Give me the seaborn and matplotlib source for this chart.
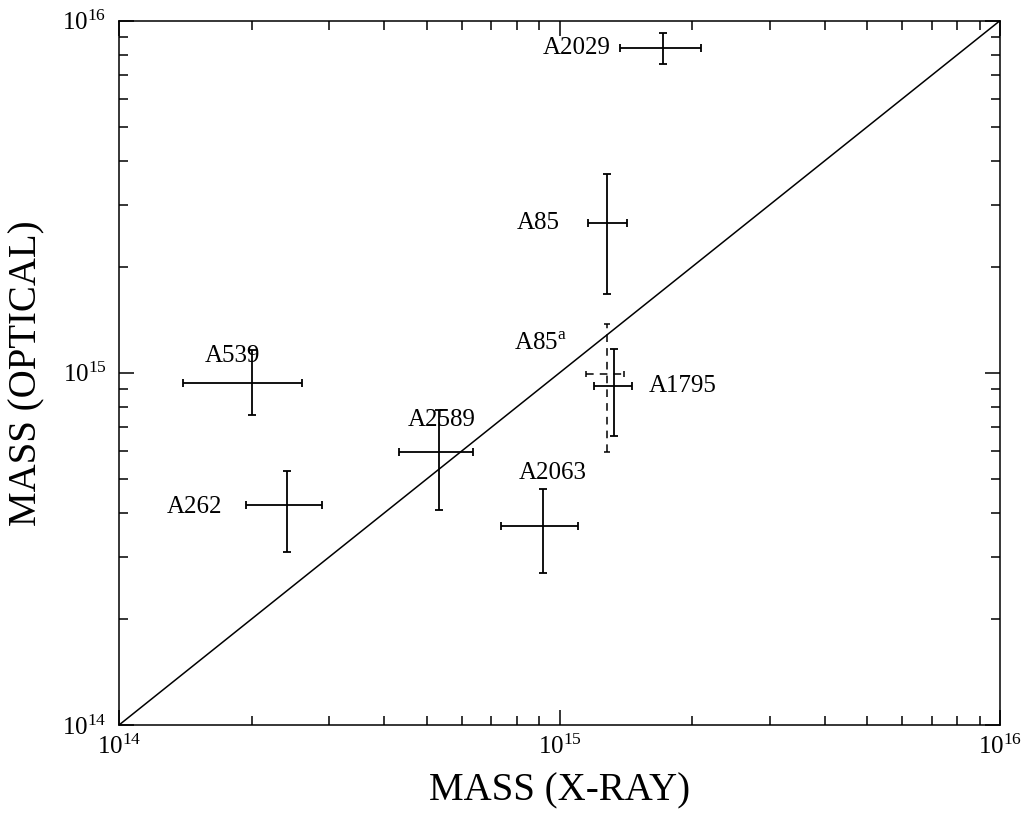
import numpy as np
import pandas as pd
import seaborn as sns
import matplotlib.pyplot as plt
from matplotlib.ticker import LogLocator, LogFormatterMathtext, NullFormatter

# cluster masses (solar masses)
clusters = ['A2029', 'A85', 'A1795', 'A539', 'A2589', 'A262', 'A2063']
m_xray = [1.72e15, 1.28e15, 1.33e15, 2.00e14, 5.33e14, 2.41e14, 9.19e14]
m_xray_lo = [1.37e15, 1.16e15, 1.20e15, 1.40e14, 4.33e14, 1.94e14, 7.37e14]
m_xray_hi = [2.09e15, 1.42e15, 1.46e15, 2.60e14, 6.35e14, 2.89e14, 1.10e15]
m_opt = [8.34e15, 2.67e15, 9.17e14, 9.37e14, 5.97e14, 4.21e14, 3.67e14]
m_opt_lo = [7.53e15, 1.67e15, 6.63e14, 7.59e14, 4.08e14, 3.10e14, 2.70e14]
m_opt_hi = [9.20e15, 3.67e15, 1.17e15, 1.16e15, 7.84e14, 5.27e14, 4.67e14]

# A85 alternative estimate (dashed)
alt_name = 'A85$^{\\rm a}$'
alt_xray = [1.28e15]
alt_xray_lo = [1.15e15]
alt_xray_hi = [1.40e15]
alt_opt = [9.92e14]
alt_opt_lo = [5.97e14]
alt_opt_hi = [1.38e15]

diag = [1e14, 1e16]

# label offsets in points
offsets = {
    'A2029': (-38, 0, 'right'),
    'A85': (-34, 0, 'right'),
    'A1795': (25, 0, 'left'),
    'A539': (-14, 19, 'center'),
    'A2589': (2, 23, 'center'),
    'A262': (-47, -1, 'right'),
    'A2063': (7, 38, 'center'),
}

sns.set_style('ticks')
plt.rcParams['font.family'] = ['Liberation Serif', 'DejaVu Serif']
plt.rcParams['mathtext.fontset'] = 'custom'
plt.rcParams['mathtext.rm'] = 'Liberation Serif'
plt.rcParams['mathtext.bf'] = 'Liberation Serif:bold'
for k in ('text.color', 'axes.labelcolor', 'xtick.color', 'ytick.color', 'axes.edgecolor'):
    plt.rcParams[k] = 'black'

fig = plt.figure(figsize=(10.27, 8.17), dpi=100)
ax = fig.add_axes([0.1159, 0.1126, 0.8578, 0.8621])

df = pd.DataFrame({'x': diag, 'y': diag})
sns.lineplot(data=df, x='x', y='y', ax=ax, color='black', lw=1.1)

x = np.array(m_xray)
y = np.array(m_opt)
xerr = [x - np.array(m_xray_lo), np.array(m_xray_hi) - x]
yerr = [y - np.array(m_opt_lo), np.array(m_opt_hi) - y]
ax.errorbar(x, y, xerr=xerr, yerr=yerr, fmt='none', ecolor='black',
            elinewidth=1.3, capsize=3, capthick=1.3)

xa = np.array(alt_xray)
ya = np.array(alt_opt)
eb = ax.errorbar(xa, ya,
                 xerr=[xa - np.array(alt_xray_lo), np.array(alt_xray_hi) - xa],
                 yerr=[ya - np.array(alt_opt_lo), np.array(alt_opt_hi) - ya],
                 fmt='none', ecolor='black', elinewidth=1.1, capsize=2,
                 capthick=1.1)
eb[2][0].set_linestyle((0, (5, 4)))
eb[2][1].set_linestyle((0, (5, 4)))

for name, xi, yi in zip(clusters, m_xray, m_opt):
    dx, dy, ha = offsets[name]
    ax.annotate(name, (xi, yi), xytext=(dx, dy), textcoords='offset points',
                ha=ha, va='center', fontsize=18)
ax.annotate(alt_name, (alt_xray[0], alt_opt[0]), xytext=(-29, 22),
            textcoords='offset points', ha='right', va='center', fontsize=18)

ax.set_xscale('log')
ax.set_yscale('log')
ax.set_xlim(1e14, 1e16)
ax.set_ylim(1e14, 1e16)

for axis in (ax.xaxis, ax.yaxis):
    axis.set_major_locator(LogLocator(base=10, numticks=5))
    axis.set_major_formatter(LogFormatterMathtext())
    axis.set_minor_locator(LogLocator(base=10, subs=np.arange(2, 10), numticks=20))
    axis.set_minor_formatter(NullFormatter())

ax.tick_params(which='both', direction='in', top=True, right=True,
               color='black', width=1.1)
ax.tick_params(which='major', length=11, labelsize=18)
ax.tick_params(axis='y', which='major', pad=9)
ax.tick_params(axis='x', which='major', pad=7)
ax.tick_params(which='minor', length=6.5)
for s in ax.spines.values():
    s.set_visible(True)
    s.set_linewidth(1.1)
    s.set_color('black')

ax.set_xlabel('MASS (X-RAY)', fontsize=28, labelpad=10)
ax.set_ylabel('MASS (OPTICAL)', fontsize=28, labelpad=12)

fig.savefig('out.png', dpi=100, facecolor='white')
